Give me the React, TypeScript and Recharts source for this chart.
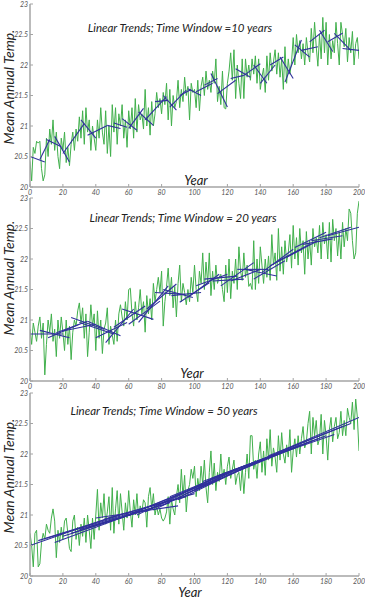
import React from 'react';
import { LineChart, Line, XAxis, YAxis } from 'recharts';

const years: number[] = Array.from({ length: 201 }, (_, i) => i);

const temps10: number[] = [
  20.42, 20.1, 20.65, 20.55, 20.75, 20.72, 20.75, 20.3, 20.1, 20.2,
  20.8, 20.5, 20.95, 20.7, 21.1, 20.6, 20.9, 20.5, 20.3, 20.8,
  20.6, 20.9, 20.4, 20.65, 20.35, 20.7, 20.9, 20.6, 20.95, 20.75,
  21.15, 20.8, 21.25, 20.7, 21.3, 20.9, 21.1, 20.6, 21.0, 20.8,
  20.6, 21.1, 20.8, 21.3, 20.9, 20.7, 21.25, 20.55, 21.0, 20.5,
  21.35, 20.9, 21.3, 20.7, 21.2, 21.0, 21.35, 20.8, 21.1, 20.65,
  21.25, 20.95, 21.3, 20.8, 21.45, 20.9, 21.35, 21.1, 21.2, 20.95,
  21.6, 21.0, 21.3, 20.85, 21.4, 21.0, 21.2, 21.55, 21.3, 21.45,
  21.2, 21.55, 21.35, 21.7, 21.1, 21.6, 21.0, 21.5, 21.3, 21.4,
  21.75, 21.3, 21.6, 21.4, 21.8, 21.5, 21.65, 21.1, 21.7, 21.55,
  21.6, 21.3, 21.75, 21.25, 21.65, 21.8, 21.5, 21.9, 21.6, 21.75,
  21.55, 21.9, 21.7, 22.1, 21.4, 21.65, 21.35, 21.9, 21.3, 21.28,
  21.7, 21.9, 22.2, 21.75, 22.25, 21.45, 22.0, 21.7, 21.45, 22.1,
  21.45, 22.1, 21.8, 22.0, 21.75, 22.1, 21.85, 22.15, 21.7, 22.1,
  21.6, 21.8, 21.95, 21.55, 22.15, 21.75, 22.2, 21.9, 22.05, 22.25,
  21.85, 22.2, 21.8, 22.1, 21.6, 22.3, 21.7, 22.1, 21.85, 22.05,
  22.45, 22.0, 22.5, 22.2, 22.4, 22.1, 22.35, 22.0, 22.45, 22.2,
  22.05, 22.6, 22.2, 22.7, 22.3, 21.98, 22.5, 22.1, 22.78, 22.2,
  22.7, 22.0, 22.5, 22.1, 22.4, 22.2, 22.7, 22.35, 22.0, 22.7,
  22.5, 22.3, 22.6, 22.05, 22.45, 22.2, 22.55, 22.0, 22.35, 22.45, 22.1,
];

const temps20: number[] = [
  20.85, 20.6, 20.95, 20.8, 20.65, 20.9, 21.05, 20.7, 20.95, 20.1,
  20.6, 21.0, 20.8, 21.1, 20.65, 20.85, 20.4, 21.0, 20.7, 21.05,
  20.8, 20.5, 21.0, 20.6, 20.9, 20.35, 20.8, 21.0, 20.9, 21.15,
  21.28, 20.95, 21.2, 20.7, 21.1, 20.4, 20.8, 21.25, 20.9, 21.1,
  20.5, 21.15, 20.7, 21.0, 20.45, 20.85, 20.95, 21.2, 20.6, 20.9,
  20.75, 20.6, 21.0, 20.65, 21.1, 21.25, 21.05, 20.9, 21.3, 21.0,
  21.5, 21.52, 21.1, 20.9, 21.3, 21.0, 21.2, 21.5, 21.1, 21.3,
  20.8, 21.4, 21.1, 21.35, 21.0, 21.6, 21.3, 21.5, 21.7, 21.45,
  21.8, 20.9, 21.3, 21.55, 21.85, 21.4, 21.7, 21.2, 21.55, 21.05,
  21.6, 21.9, 21.3, 21.6, 21.45, 21.25, 21.5, 21.3, 21.7, 21.45,
  21.9, 21.5, 21.3, 21.8, 21.6, 22.1, 21.5, 21.95, 21.6, 22.1,
  21.4, 21.8, 21.5, 21.9, 21.6, 21.7, 21.75, 21.5, 21.3, 21.9,
  21.45, 22.0, 21.35, 21.8, 21.6, 22.0, 21.5, 22.2, 21.8, 21.65,
  22.1, 21.7, 21.9, 21.55, 21.6, 21.5, 22.3, 21.5, 22.0, 21.6,
  22.2, 21.9, 21.6, 22.0, 21.7, 22.05, 21.65, 22.4, 21.9, 22.1,
  21.65, 22.5, 21.8, 22.2, 21.75, 22.3, 21.95, 22.1, 22.4, 21.85,
  22.55, 22.0, 22.35, 21.9, 22.5, 22.1, 22.3, 21.75, 22.45, 22.0,
  22.3, 21.9, 22.5, 22.2, 22.35, 22.1, 22.55, 22.0, 22.6, 22.25,
  22.4, 22.0, 22.6, 21.95, 22.65, 22.3, 22.5, 22.05, 22.45, 22.0,
  22.6, 22.2, 22.5, 22.3, 22.82, 22.75, 22.3, 22.0, 22.1, 22.75, 22.95,
];

const temps50: number[] = [
  20.7, 20.5, 20.15, 20.7, 20.75, 20.15, 20.2, 20.55, 20.7, 20.6,
  20.85, 20.75, 20.7, 20.95, 21.1, 20.9, 20.3, 20.75, 20.55, 20.8,
  20.6, 20.9, 20.95, 20.7, 20.45, 20.4, 20.9, 21.0, 20.6, 20.8,
  20.5, 20.85, 20.65, 20.95, 20.55, 21.0, 20.75, 20.45, 20.95, 20.6,
  21.0, 21.42, 20.75, 21.2, 20.95, 21.35, 20.85, 21.05, 21.3, 20.75,
  21.45, 20.7, 21.1, 21.4, 20.85, 21.35, 21.05, 20.75, 21.2, 20.95,
  21.4, 21.05, 20.8, 21.25, 21.0, 21.35, 20.95, 21.15, 21.05, 21.25,
  21.2, 20.8, 21.3, 21.45, 21.1, 21.35, 21.0, 21.15, 21.0, 21.1,
  20.95, 20.9, 20.95, 21.05, 21.3, 20.85, 21.25, 21.1, 21.0, 21.3,
  21.5, 21.2, 21.75, 21.3, 21.65, 21.05, 21.4, 21.5, 21.75, 21.6,
  21.8, 21.3, 21.6, 21.4, 21.8, 21.5, 21.9, 21.45, 21.2, 21.7,
  22.05, 21.5, 21.85, 21.4, 21.7, 21.55, 22.0, 21.6, 21.75, 21.5,
  21.8, 21.95, 21.6, 21.75, 21.9, 21.5, 21.65, 21.7, 21.4, 21.8,
  21.35, 21.7, 22.0, 21.6, 22.3, 22.3, 21.75, 21.9, 21.6, 22.0,
  22.2, 21.7, 22.05, 21.65, 22.25, 21.9, 22.4, 21.8, 22.1, 21.95,
  21.7, 22.3, 21.9, 22.35, 22.0, 21.85, 22.15, 21.95, 22.4, 21.7,
  22.05, 22.25, 21.95, 22.3, 22.0, 22.25, 22.45, 22.1, 22.2, 22.5,
  22.7, 22.0, 22.6, 22.3, 22.55, 22.15, 22.25, 22.65, 22.0, 22.55,
  22.3, 21.9, 22.4, 22.6, 22.2, 22.45, 22.6, 22.25, 22.35, 22.7,
  22.3, 22.55, 22.3, 22.75, 22.6, 22.5, 22.85, 22.4, 22.9, 22.6, 22.05,
];

// trend segments: [startYear, startValue, endYear, endValue]
const trends10: number[][] = [
  [0, 20.5, 9, 20.41], [6, 20.45, 12, 20.78], [10, 20.78, 19, 20.66], [15, 20.83, 24, 20.41],
  [20, 20.55, 33, 21.04], [31, 21.1, 40, 20.8], [35, 20.85, 47, 21.01], [47, 21.01, 55, 20.96],
  [51, 21.05, 59, 20.98], [56, 21.12, 65, 20.93], [60, 20.96, 69, 21.29], [66, 21.23, 75, 21.01],
  [70, 21.1, 83, 21.48], [76, 21.4, 84, 21.42], [81, 21.5, 89, 21.26], [85, 21.31, 95, 21.59],
  [91, 21.5, 98, 21.6], [96, 21.61, 104, 21.5], [101, 21.56, 111, 21.7], [106, 21.67, 114, 21.78],
  [110, 21.86, 120, 21.31], [114, 21.53, 125, 21.75], [122, 21.78, 130, 21.83], [125, 21.94, 134, 21.8],
  [130, 21.83, 140, 22.02], [136, 22.0, 144, 21.7], [140, 21.7, 149, 22.0], [146, 22.0, 154, 22.13],
  [152, 22.13, 160, 21.78], [155, 21.72, 165, 22.41], [161, 22.33, 170, 22.13], [165, 22.24, 175, 22.3],
  [170, 22.38, 179, 22.57], [176, 22.57, 184, 22.22], [181, 22.38, 190, 22.52], [185, 22.52, 195, 22.24],
  [190, 22.27, 200, 22.24],
];

const trends20: number[][] = [
  [0, 20.77, 20, 20.77], [6, 20.83, 24, 20.71], [11, 20.71, 30, 20.93], [16, 20.79, 35, 20.98],
  [20, 20.82, 40, 20.93], [25, 21.04, 45, 20.85], [30, 20.96, 51, 20.77], [35, 20.98, 55, 20.74],
  [40, 20.71, 59, 20.96], [46, 20.63, 63, 21.18], [51, 20.88, 70, 21.23], [56, 21.18, 75, 21.01],
  [60, 20.93, 79, 21.31], [66, 20.96, 84, 21.56], [71, 21.18, 89, 21.59], [76, 21.45, 94, 21.42],
  [81, 21.5, 99, 21.37], [86, 21.4, 104, 21.45], [91, 21.29, 109, 21.61], [96, 21.37, 115, 21.75],
  [101, 21.56, 120, 21.75], [106, 21.67, 126, 21.72], [111, 21.64, 130, 21.67], [116, 21.56, 136, 21.94],
  [122, 21.64, 140, 21.83], [126, 21.83, 145, 21.83], [131, 21.83, 150, 21.72], [136, 21.67, 155, 21.97],
  [141, 21.78, 160, 22.16], [146, 21.89, 165, 22.16], [151, 21.97, 170, 22.24], [156, 22.03, 175, 22.3],
  [161, 22.19, 180, 22.44], [166, 22.24, 184, 22.33], [171, 22.3, 190, 22.38], [176, 22.35, 195, 22.52],
  [181, 22.38, 200, 22.52],
];

const trends50: number[][] = [
  [0, 20.5, 50, 20.97], [5, 20.58, 55, 21.0], [10, 20.62, 60, 21.02], [15, 20.55, 65, 21.05],
  [20, 20.65, 70, 21.08], [25, 20.7, 75, 21.12], [30, 20.76, 80, 21.16], [35, 20.8, 85, 21.2],
  [40, 20.95, 90, 21.15], [45, 20.93, 95, 21.3], [50, 20.97, 100, 21.35], [55, 20.95, 105, 21.5],
  [60, 21.0, 110, 21.55], [65, 21.0, 115, 21.65], [70, 21.05, 120, 21.7], [75, 21.08, 125, 21.75],
  [80, 21.15, 130, 21.8], [85, 21.3, 135, 21.85], [90, 21.25, 140, 21.9], [95, 21.35, 145, 21.95],
  [100, 21.4, 150, 22.0], [105, 21.55, 155, 22.05], [110, 21.6, 160, 22.1], [115, 21.65, 165, 22.15],
  [120, 21.65, 170, 22.2], [125, 21.72, 175, 22.25], [130, 21.8, 180, 22.3], [135, 21.85, 185, 22.32],
  [140, 21.9, 190, 22.45], [145, 21.97, 195, 22.5], [150, 22.02, 200, 22.6],
];

const xTicks: number[] = [0, 20, 40, 60, 80, 100, 120, 140, 160, 180, 200];
const yTicks: number[] = [20, 20.5, 21, 21.5, 22, 22.5, 23];

const FONT = 'Lato, "Open Sans", sans-serif';
const AXIS = '#a4a4a4';
const GREEN = '#41b04c';
const BLUE = '#30309c';

const BottomTick = (p: any) => (
  <g>
    <line x1={p.x} y1={p.y} x2={p.x} y2={p.y - 3} stroke={AXIS} />
    <text x={p.x} y={p.y + 8} textAnchor="middle" fontSize={7} fontStyle="italic" fill="#555" fontFamily={FONT}>
      {p.payload.value}
    </text>
  </g>
);
const TopTick = (p: any) => (
  <line x1={p.x} y1={p.y} x2={p.x} y2={p.y + 3} stroke={AXIS} />
);
const LeftTick = (p: any) => (
  <g>
    <line x1={p.x} y1={p.y} x2={p.x + 3} y2={p.y} stroke={AXIS} />
    <text x={p.x - 2} y={p.y + 2.5} textAnchor="end" fontSize={7} fontStyle="italic" fill="#555" fontFamily={FONT}>
      {p.payload.value}
    </text>
  </g>
);
const RightTick = (p: any) => (
  <line x1={p.x} y1={p.y} x2={p.x - 3} y2={p.y} stroke={AXIS} />
);

type PanelProps = {
  top: number;
  height: number;
  xAxisHeight: number;
  temps: number[];
  trends: number[][];
  title: string;
  titleX: number;
  titleY: number;
  ylabY: number;
  yearX: number;
  yearY: number;
};

const Panel = (props: PanelProps) => {
  const data = years.map((yr, i) => ({ x: yr, y: props.temps[i] }));
  return (
    <div style={{ position: 'absolute', left: 0, top: props.top, width: 365, height: props.height }}>
      <LineChart width={365} height={props.height} margin={{ top: 4, right: 6, bottom: 0, left: 0 }}>
        <XAxis
          xAxisId="b"
          dataKey="x"
          type="number"
          domain={[0, 200]}
          ticks={xTicks}
          interval={0}
          height={props.xAxisHeight}
          tickSize={0}
          tickMargin={0}
          tickLine={false}
          axisLine={{ stroke: AXIS, strokeWidth: 1.5 }}
          tick={<BottomTick />}
          allowDataOverflow
        />
        <XAxis
          xAxisId="t"
          orientation="top"
          dataKey="x"
          type="number"
          domain={[0, 200]}
          ticks={xTicks}
          interval={0}
          height={0}
          tickSize={0}
          tickMargin={0}
          tickLine={false}
          axisLine={{ stroke: AXIS, strokeWidth: 1.5 }}
          tick={<TopTick />}
          allowDataOverflow
        />
        <YAxis
          yAxisId="l"
          type="number"
          domain={[20, 23]}
          ticks={yTicks}
          interval={0}
          width={30}
          tickSize={0}
          tickMargin={0}
          tickLine={false}
          axisLine={{ stroke: AXIS, strokeWidth: 1.5 }}
          tick={<LeftTick />}
          allowDataOverflow
        />
        <YAxis
          yAxisId="r"
          orientation="right"
          type="number"
          domain={[20, 23]}
          ticks={yTicks}
          interval={0}
          width={0}
          tickSize={0}
          tickMargin={0}
          tickLine={false}
          axisLine={{ stroke: AXIS, strokeWidth: 1.5 }}
          tick={<RightTick />}
          allowDataOverflow
        />
        <Line
          xAxisId="b"
          yAxisId="l"
          data={data}
          dataKey="y"
          type="linear"
          stroke={GREEN}
          strokeWidth={1}
          dot={false}
          isAnimationActive={false}
        />
        {props.trends.map((s, i) => (
          <Line
            key={i}
            xAxisId="b"
            yAxisId="l"
            data={[{ x: s[0], y: s[1] }, { x: s[2], y: s[3] }]}
            dataKey="y"
            type="linear"
            stroke={BLUE}
            strokeWidth={1.1}
            dot={false}
            isAnimationActive={false}
          />
        ))}
      </LineChart>
    </div>
  );
};

const labelBase: React.CSSProperties = {
  position: 'absolute',
  whiteSpace: 'nowrap',
  fontFamily: FONT,
  fontStyle: 'italic',
  color: '#222',
  transform: 'translate(-50%, -50%)',
  lineHeight: 1,
};

const panels = [
  { top: 0, height: 200, xAxisHeight: 13, temps: temps10, trends: trends10, title: 'Linear Trends; Time Window =10 years', titleX: 180, titleY: 28, ylabY: 87, yearX: 196, yearY: 180 },
  { top: 194, height: 200, xAxisHeight: 13, temps: temps20, trends: trends20, title: 'Linear Trends; Time Window = 20 years', titleX: 183, titleY: 218, ylabY: 278, yearX: 192, yearY: 373 },
  { top: 389, height: 211, xAxisHeight: 24, temps: temps50, trends: trends50, title: 'Linear Trends; Time Window = 50 years', titleX: 164, titleY: 411, ylabY: 476, yearX: 190, yearY: 592 },
];

export default function App() {
  return (
    <div style={{ position: 'absolute', left: 0, top: 0, width: 365, height: 600, background: '#fff', overflow: 'hidden' }}>
      {panels.map((p, i) => (
        <React.Fragment key={i}>
          <Panel {...p} />
          <div style={{ ...labelBase, left: p.titleX, top: p.titleY, fontSize: 11.5 }}>{p.title}</div>
          <div style={{ ...labelBase, left: 9, top: p.ylabY, fontSize: 14, transform: 'translate(-50%, -50%) rotate(-90deg)' }}>
            Mean Annual Temp.
          </div>
          <div style={{ ...labelBase, left: p.yearX, top: p.yearY, fontSize: 13 }}>Year</div>
        </React.Fragment>
      ))}
    </div>
  );
}
